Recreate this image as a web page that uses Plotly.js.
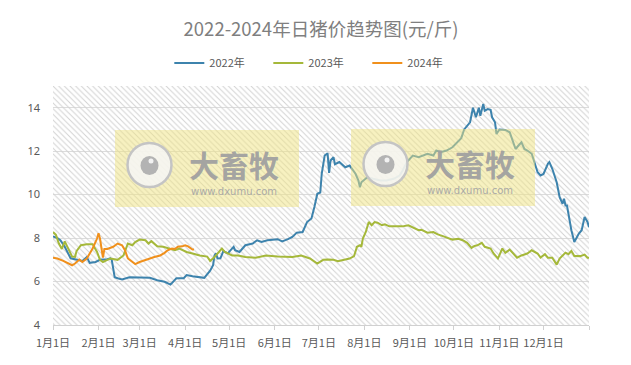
<!DOCTYPE html>
<html>
<head>
<meta charset="utf-8">
<script src="https://cdn.plot.ly/plotly-3.0.1.min.js"></script>
<style>html,body{margin:0;padding:0;background:#fff;}#chart{width:631px;height:365px;}</style>
</head>
<body>
<div id="chart"></div>
<script>
// ---- data (day of year, price in 元/斤) ----
const seriesNames = ['2022年', '2023年', '2024年'];

const days2022 = [0,3,5,8,12,16,20,23,25,29,32,37,39,40,42,44,47,52,59,66,71,76,80,82,84,89,91,95,100,103,107,109,110,111,112,114,116,119,123,124,127,131,136,139,142,146,153,156,160,163,166,170,173,176,178,180,182,183,185,187,188,189,191,192,195,199,202,206,208,209,210,214,218,223,227,232,236,238,241,245,249,252,255,259,261,264,268,272,275,278,280,283,284,286,288,290,291,293,294,296,298,299,301,302,304,308,311,313,315,317,319,321,323,326,328,330,332,334,337,338,340,343,345,347,348,349,350,351,353,355,358,360,362,364,365];
const price2022 = [8.08,8.0,7.9,7.6,7.07,7.0,6.95,7.13,6.86,6.9,7.0,7.03,7.07,7.0,6.2,6.15,6.1,6.2,6.17,6.17,6.06,5.99,5.86,6.03,6.15,6.15,6.3,6.24,6.19,6.17,6.5,6.75,7.2,7.3,7.06,7.07,7.4,7.3,7.6,7.44,7.36,7.67,7.75,7.9,7.82,7.9,7.95,7.85,7.95,8.05,8.25,8.28,8.74,8.9,9.43,10.04,10.1,10.96,11.8,11.9,11.0,11.57,11.72,11.4,11.5,11.26,11.34,10.96,10.65,10.34,10.57,10.8,10.73,10.65,10.65,10.73,10.88,11.1,11.5,11.8,11.72,11.8,11.88,11.8,12.03,11.95,12.03,12.18,12.41,12.6,13.0,13.27,13.33,14.0,13.56,14.0,13.63,14.17,13.86,13.94,13.9,13.56,13.33,12.79,13.0,12.98,12.87,12.49,12.1,12.26,12.41,12.1,12.03,11.88,11.5,11.03,10.88,10.95,11.42,11.5,11.19,10.57,9.88,9.58,9.81,9.5,9.5,9.12,8.36,7.82,8.2,8.36,8.97,8.74,8.5];

const days2023 = [0,2,4,6,8,10,13,15,16,19,23,27,30,32,34,37,39,44,48,51,54,56,59,63,65,67,69,71,75,80,83,86,91,95,100,105,107,110,115,117,122,126,131,138,145,153,163,169,175,180,184,187,191,194,197,202,205,207,209,210,211,213,215,217,219,221,224,226,229,234,238,242,245,249,251,255,259,262,266,269,272,276,279,282,285,287,289,292,294,298,300,303,306,308,311,316,319,323,326,330,332,335,337,340,343,345,349,351,353,355,359,362,364,365];
const price2023 = [8.28,8.15,7.75,7.5,7.85,7.55,7.15,7.13,7.4,7.67,7.72,7.72,7.36,7.0,6.9,7.0,7.06,7.0,7.2,7.75,7.67,7.82,7.93,7.9,7.75,7.86,7.75,7.62,7.6,7.52,7.44,7.52,7.36,7.29,7.2,7.15,6.95,7.13,7.52,7.36,7.2,7.2,7.13,7.1,7.2,7.15,7.13,7.2,7.06,6.83,7.0,7.01,7.0,6.94,6.98,7.06,7.17,7.6,7.67,7.6,7.98,8.28,8.74,8.59,8.74,8.71,8.59,8.63,8.54,8.54,8.54,8.59,8.48,8.36,8.38,8.25,8.28,8.17,8.08,8.02,7.93,7.97,7.9,7.78,7.55,7.64,7.67,7.78,7.6,7.52,7.29,7.06,7.52,7.32,7.47,7.1,7.2,7.29,7.44,7.29,7.1,7.26,7.1,7.1,6.78,7.06,7.33,7.26,7.41,7.18,7.17,7.24,7.1,7.1];

const days2024 = [0,3,7,10,13,15,18,20,23,25,27,30,31,32,33,34,35,37,41,44,47,49,51,54,56,59,63,66,69,73,76,78,81,83,85,88,90,92,95,96];
const price2024 = [7.09,7.06,6.95,6.86,6.75,6.83,7.01,6.9,7.06,7.29,7.52,7.98,8.22,7.98,7.6,7.1,7.5,7.5,7.6,7.75,7.67,7.44,7.06,6.9,6.8,6.9,7.01,7.06,7.13,7.2,7.32,7.44,7.52,7.5,7.6,7.62,7.67,7.62,7.47,7.47];

const tickDays = [0,31,59,90,120,151,181,212,243,273,304,334,365];
const tickLabels = ['1月1日','2月1日','3月1日','4月1日','5月1日','6月1日','7月1日','8月1日','9月1日','10月1日','11月1日','12月1日',''];
const yTicks = [4,6,8,10,12,14];

const colors = ['#3d83ad','#a5b83a','#f0901c'];
const X_RANGE = [0,365], Y_RANGE = [4,15];

// hatched plot background
const hatch = {
  x: [X_RANGE[0], X_RANGE[1], X_RANGE[1], X_RANGE[0], X_RANGE[0]],
  y: [Y_RANGE[0], Y_RANGE[0], Y_RANGE[1], Y_RANGE[1], Y_RANGE[0]],
  type: 'scatter', mode: 'lines', fill: 'toself',
  fillcolor: 'rgba(0,0,0,0)',
  fillpattern: {shape: '\\', fgcolor: '#d2d2d2', bgcolor: 'rgba(0,0,0,0)', size: 4, solidity: 0.25},
  line: {width: 0}, hoverinfo: 'skip', showlegend: false
};

const dataSets = [[days2022, price2022], [days2023, price2023], [days2024, price2024]];
const traces = [hatch];
dataSets.forEach((d, i) => {
  traces.push({
    x: d[0], y: d[1], name: seriesNames[i], type: 'scatter', mode: 'lines',
    line: {color: colors[i], width: 2}
  });
});

// watermark (two copies)
const shapes = [], annotations = [];
const PX = v => (v - 53) / 536, PY = v => (325 - v) / 239;
[[115,130],[351,129]].forEach(([rx, ry]) => {
  shapes.push({type:'rect', xref:'paper', yref:'paper', layer:'above',
    x0: PX(rx), x1: PX(rx+184), y0: PY(ry+77), y1: PY(ry),
    fillcolor:'rgba(240,228,130,0.5)', line:{width:0}});
  const cx = rx + 34.5, cy = ry + 35;
  shapes.push({type:'circle', xref:'paper', yref:'paper', layer:'above',
    x0: PX(cx-22), x1: PX(cx+22), y0: PY(cy+22), y1: PY(cy-22),
    fillcolor:'rgba(246,246,246,0.85)', line:{color:'#c4c4c4', width:2.5}});
  shapes.push({type:'circle', xref:'paper', yref:'paper', layer:'above',
    x0: PX(cx-9), x1: PX(cx+9), y0: PY(cy+10), y1: PY(cy-9),
    fillcolor:'#b3b3b3', line:{width:0}});
  shapes.push({type:'circle', xref:'paper', yref:'paper', layer:'above',
    x0: PX(cx-1), x1: PX(cx+4), y0: PY(cy-1.5), y1: PY(cy-6.5),
    fillcolor:'#f2f2f2', line:{width:0}});
  annotations.push({xref:'paper', yref:'paper', x: PX(rx+119), y: PY(ry+34),
    text:'大畜牧', showarrow:false, xanchor:'center', yanchor:'middle',
    font:{family:'Noto Sans CJK SC', size:30, color:'rgba(160,160,160,0.95)', weight:700}});
  annotations.push({xref:'paper', yref:'paper', x: PX(rx+119), y: PY(ry+61),
    text:'www.dxumu.com', showarrow:false, xanchor:'center', yanchor:'middle',
    font:{family:'DejaVu Sans', size:10, color:'rgba(165,165,165,0.95)'}});
});

const layout = {
  width: 631, height: 365,
  margin: {l: 53, r: 42, t: 86, b: 40},
  paper_bgcolor: '#ffffff', plot_bgcolor: '#ffffff',
  title: {text: '2022-2024年日猪价趋势图(元/斤)', x: 0.5, xref: 'paper', xanchor: 'center',
          y: 1 - 30/365, yref: 'container', yanchor: 'middle',
          font: {family: 'Noto Sans CJK SC', size: 18.5, color: '#7f7f7f'}},
  showlegend: true,
  legend: {orientation: 'h', x: 0.217, xanchor: 'left', y: 1.096, yanchor: 'middle',
           font: {family: 'Noto Sans CJK SC', size: 11, color: '#595959'},
           entrywidth: 54, entrywidthmode: 'pixels', bgcolor: 'rgba(0,0,0,0)',
           traceorder: 'normal'},
  xaxis: {range: X_RANGE, tickmode: 'array', tickvals: tickDays, ticktext: tickLabels,
          tickangle: 0,
          showgrid: false, zeroline: false, showline: true, linecolor: '#d0d0d0', linewidth: 1,
          ticks: 'outside', ticklen: 4, tickcolor: '#d0d0d0', ticklabelstandoff: 4,
          tickfont: {family: 'Noto Sans CJK SC', size: 11, color: '#595959'}, fixedrange: true},
  yaxis: {range: Y_RANGE, tickmode: 'array', tickvals: yTicks,
          showgrid: true, gridcolor: '#dcdcdc', gridwidth: 1, zeroline: false, showline: false,
          ticks: '', ticklabelstandoff: 12,
          tickfont: {family: 'Noto Sans', size: 11, color: '#595959'}, fixedrange: true},
  shapes: shapes, annotations: annotations
};

Plotly.newPlot('chart', traces, layout, {displayModeBar: false, staticPlot: true});
</script>
</body>
</html>
